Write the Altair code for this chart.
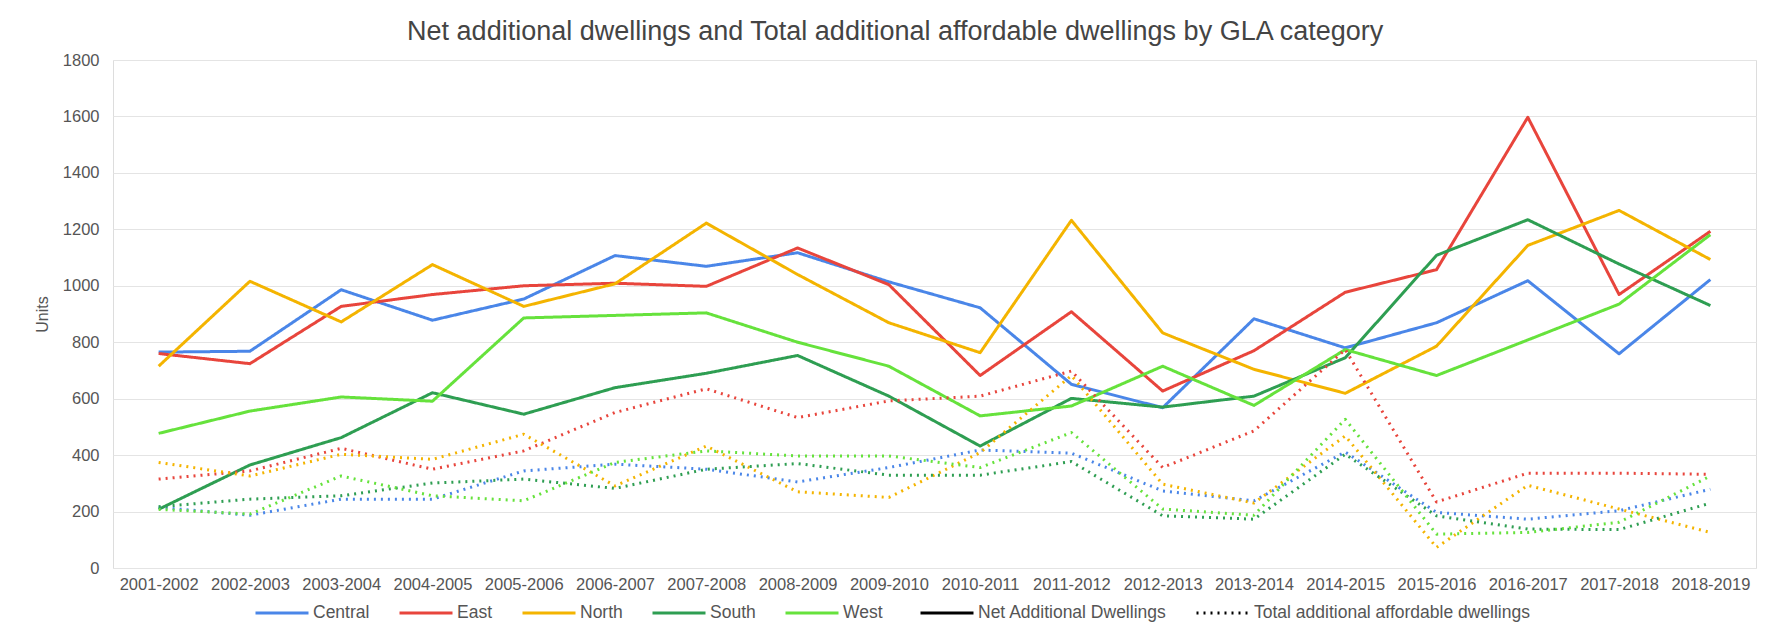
import altair as alt
import pandas as pd

periods = ["2001-2002", "2002-2003", "2003-2004", "2004-2005", "2005-2006", "2006-2007",
           "2007-2008", "2008-2009", "2009-2010", "2010-2011", "2011-2012", "2012-2013",
           "2013-2014", "2014-2015", "2015-2016", "2016-2017", "2017-2018", "2018-2019"]
regions = ["Central", "East", "North", "South", "West"]
region_colors = ["#4a86e8", "#e8453c", "#f4b400", "#2e9e52", "#66e23c"]
types = ["Net Additional Dwellings", "Total additional affordable dwellings"]

# Net additional dwellings (solid lines)
net_central = [765, 768, 986, 878, 953, 1107, 1069, 1117, 1014, 922, 651, 568, 883, 780, 869, 1018, 759, 1022]
net_east = [760, 724, 927, 969, 1000, 1009, 998, 1134, 1004, 682, 908, 627, 770, 977, 1057, 1597, 969, 1193]
net_north = [715, 1016, 872, 1075, 927, 1007, 1222, 1040, 869, 763, 1232, 833, 704, 619, 786, 1143, 1267, 1093]
net_south = [208, 365, 462, 621, 545, 639, 690, 753, 609, 432, 601, 570, 609, 745, 1108, 1234, 1077, 930]
net_west = [477, 556, 606, 591, 886, 895, 904, 800, 715, 539, 574, 715, 576, 774, 682, 808, 935, 1181]

# Total additional affordable dwellings (dotted lines)
aff_central = [215, 187, 244, 244, 344, 368, 350, 305, 356, 418, 407, 273, 238, 411, 197, 173, 203, 279]
aff_east = [315, 344, 424, 350, 415, 551, 635, 533, 592, 609, 698, 356, 486, 774, 234, 336, 336, 332]
aff_north = [374, 326, 403, 385, 474, 291, 432, 270, 250, 409, 682, 297, 230, 468, 73, 293, 209, 126]
aff_south = [217, 244, 256, 301, 315, 282, 350, 370, 329, 329, 377, 185, 173, 403, 185, 138, 136, 230]
aff_west = [208, 191, 326, 256, 238, 374, 415, 397, 397, 356, 480, 209, 187, 527, 120, 126, 162, 326]

net_series = [net_central, net_east, net_north, net_south, net_west]
aff_series = [aff_central, aff_east, aff_north, aff_south, aff_west]

rows = []
for t, series in ((types[0], net_series), (types[1], aff_series)):
    for reg, vals in zip(regions, series):
        for p, v in zip(periods, vals):
            rows.append({"period": p, "region": reg, "type": t, "units": v})
df = pd.DataFrame(rows)

FONT = "Liberation Sans"
GREY = "#555555"

legend_common = dict(orient="none", legendY=525, direction="horizontal",
                     symbolType="stroke", symbolSize=2809, symbolStrokeWidth=3,
                     labelFontSize=17.5, labelColor=GREY, labelFont=FONT,
                     labelOffset=3, labelLimit=400, columnPadding=23, gridAlign="none")

chart = alt.Chart(df).mark_line(strokeWidth=3, strokeJoin="round").encode(
    x=alt.X("period:O", sort=periods, title=None,
            scale=alt.Scale(type="point", padding=0.5),
            axis=alt.Axis(labelAngle=0, labelFontSize=16.5, labelColor=GREY, labelFont=FONT,
                          ticks=False, domain=False, grid=False, labelPadding=8)),
    y=alt.Y("units:Q", title="Units",
            scale=alt.Scale(domain=[0, 1800], nice=False),
            axis=alt.Axis(tickCount=9, format="d", ticks=False, domain=False, gridColor="#e4e4e4",
                          labelFontSize=16.5, labelColor=GREY, labelFont=FONT, labelPadding=14,
                          titleFontSize=16, titleFontWeight="normal", titleColor=GREY,
                          titleFont=FONT, titlePadding=12)),
    color=alt.Color("region:N", title=None,
                    scale=alt.Scale(domain=regions, range=region_colors),
                    legend=alt.Legend(legendX=141, **legend_common)),
    strokeDash=alt.StrokeDash("type:N", title=None,
                              scale=alt.Scale(domain=types, range=[[1, 0], [2, 5]]),
                              legend=alt.Legend(legendX=806, symbolStrokeColor="#000000",
                                                **legend_common)),
    detail="type:N",
).properties(
    width=1643,
    height=508,
    padding={"left": 113, "top": 60, "right": 10, "bottom": 60},
    autosize=alt.AutoSizeParams(type="none"),
    title=alt.TitleParams(
        text="Net additional dwellings and Total additional affordable dwellings by GLA category",
        fontSize=27, font=FONT, color="#444444", fontWeight="normal",
        anchor="middle", frame="bounds", offset=6),
).configure_view(stroke=None).configure(background="white")

chart.save("out.html", embed_options={"renderer": "svg", "actions": False})
